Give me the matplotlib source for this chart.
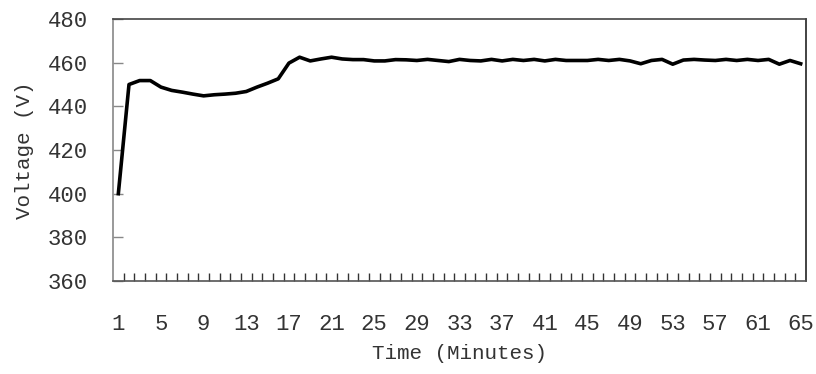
import numpy as np
import matplotlib
matplotlib.use("Agg")
import matplotlib.pyplot as plt

# minutes 1..65 (category axis)
minutes = list(range(1, 66))
voltage = [400, 450, 451.8, 451.8, 448.8, 447.3, 446.5, 445.6, 444.8, 445.3,
           445.6, 446, 446.8, 448.8, 450.6, 452.6, 459.8, 462.5, 460.8, 461.7,
           462.5, 461.7, 461.4, 461.4, 460.8, 460.8, 461.4, 461.3, 461, 461.5,
           461, 460.5, 461.5, 461, 460.8, 461.5, 460.8, 461.5, 461, 461.5,
           460.8, 461.5, 461, 461, 461, 461.5, 461, 461.5, 460.8, 459.5,
           461, 461.5, 459.3, 461.2, 461.5, 461.2, 461, 461.5, 461, 461.5,
           461, 461.5, 459.3, 461, 459.5]
xtick_labels = list(range(1, 66, 4))
yticks = [360, 380, 400, 420, 440, 460, 480]

plt.rcParams['font.family'] = ['Liberation Mono', 'DejaVu Sans']

fig = plt.figure(figsize=(8.16, 3.74), dpi=100)
ax = fig.add_axes([113/816, 1-281/374, (806-113)/816, (281-19)/374])

ax.plot(minutes, voltage, color='black', lw=2.6, solid_joinstyle='round')

ax.set_xlim(0.5, 65.5)
ax.set_ylim(360, 480)
ax.set_yticks(yticks)
ax.set_xticks(xtick_labels)
ax.set_xticks(np.arange(1.5, 65, 1), minor=True)

ax.tick_params(axis='y', direction='in', length=7, width=1, colors='#888888',
               labelcolor='#333333', labelsize=16, pad=18)
ax.tick_params(axis='x', which='major', length=0, labelsize=16, pad=24,
               labelcolor='#333333')
ax.tick_params(axis='x', which='minor', direction='in', length=6, width=1,
               colors='#333333')

for side, c in [('left', '#888888'), ('bottom', '#555555'),
                ('top', '#444444'), ('right', '#222222')]:
    ax.spines[side].set_color(c)
    ax.spines[side].set_linewidth(1.2)

ax.set_xlabel('Time (Minutes)', fontsize=15, color='#333333', labelpad=6)
ax.set_ylabel('Voltage (V)', fontsize=15, color='#333333', labelpad=10)

fig.savefig('out.png', dpi=100)
